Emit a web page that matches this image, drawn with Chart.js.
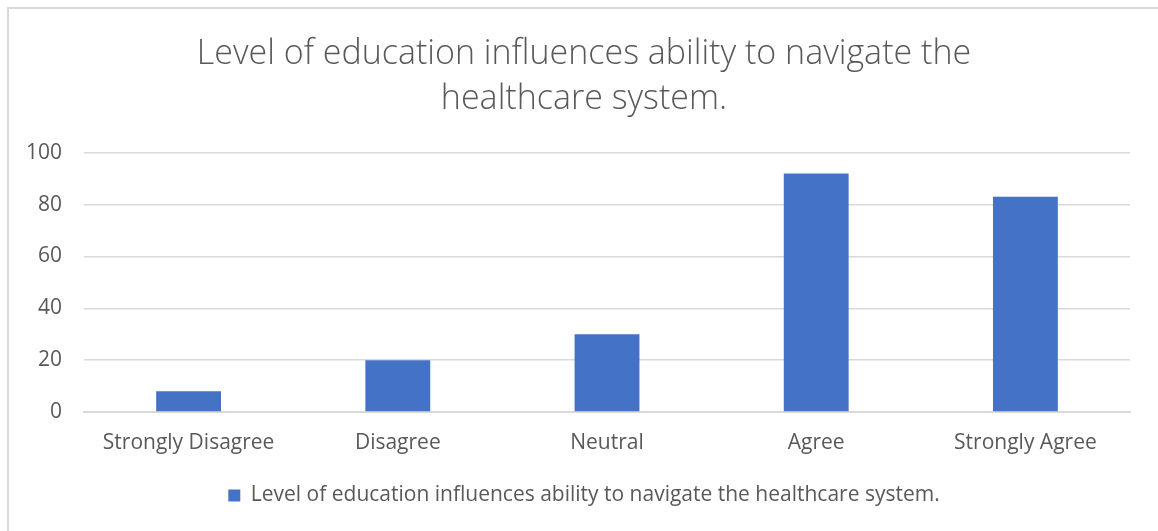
<!DOCTYPE html>
<html>
<head>
<meta charset="utf-8">
<script src="https://cdn.jsdelivr.net/npm/chart.js@4.4.1/dist/chart.umd.min.js"></script>
<style>
  html, body { margin: 0; padding: 0; background: #fff; }
  #wrap { position: relative; width: 1158px; height: 531px; }
  #frame { position: absolute; left: 7px; top: 7px; width: 1160px; height: 540px;
           border-left: 2px solid #d9d9d9; border-top: 2px solid #d9d9d9; pointer-events: none; }
  canvas { position: absolute; left: 0; top: 0; }
  .pre { position: absolute; left: -9999px; top: 0; }
</style>
</head>
<body>
<div class="pre" style="font-family:'Open Sans';font-size:21px">Aa</div>
<div class="pre" style="font-family:'Open Sans';font-weight:300;font-size:34px">Aa</div>
<div id="wrap">
  <canvas id="c" width="1158" height="531"></canvas>
  <div id="frame"></div>
</div>
<script>
const titleLines = ["Level of education influences ability to navigate the", "healthcare system."];
const categories = ["Strongly Disagree", "Disagree", "Neutral", "Agree", "Strongly Agree"];
const seriesName = "Level of education influences ability to navigate the healthcare system.";
const seriesValues = [8, 20, 30, 92, 83];
const yMin = 0, yMax = 100, yStep = 20;

const grey = "#595959";
function draw() {
  new Chart(document.getElementById("c"), {
    type: "bar",
    data: {
      labels: categories,
      datasets: [{
        label: seriesName,
        data: seriesValues,
        backgroundColor: "#4472C4",
        borderWidth: 0,
        barPercentage: 0.62,
        categoryPercentage: 0.5
      }]
    },
    options: {
      responsive: false,
      animation: false,
      devicePixelRatio: 1,
      layout: { padding: { left: 38, right: 28, top: 0, bottom: 15 } },
      plugins: {
        title: {
          display: true,
          text: titleLines,
          color: grey,
          font: { family: "'Open Sans'", size: 34, weight: 300, lineHeight: 1.32 },
          padding: { top: 32, bottom: 31 }
        },
        legend: {
          display: true,
          position: "bottom",
          labels: {
            color: grey,
            font: { family: "'Open Sans'", size: 21 },
            boxWidth: 12, boxHeight: 12,
            padding: 10
          }
        },
        tooltip: { enabled: false }
      },
      scales: {
        x: {
          grid: { display: false, drawTicks: false },
          border: { display: true, color: "#d9d9d9", width: 2 },
          ticks: { color: grey, font: { family: "'Open Sans'", size: 21 }, padding: 18, maxRotation: 0 },
          afterFit: (s) => { s.height = 63; }
        },
        y: {
          min: yMin, max: yMax,
          grid: { color: "#d9d9d9", lineWidth: 1.5, drawTicks: false },
          border: { display: false },
          ticks: { stepSize: yStep, color: grey, font: { family: "'Open Sans'", size: 21 }, padding: 22 },
          afterFit: (s) => { s.width = 46; s._computeLabelArea = () => undefined; }
        }
      }
    }
  });
}
Promise.all([
  document.fonts.load("21px 'Open Sans'"),
  document.fonts.load("300 34px 'Open Sans'")
]).then(draw, draw);
</script>
</body>
</html>
